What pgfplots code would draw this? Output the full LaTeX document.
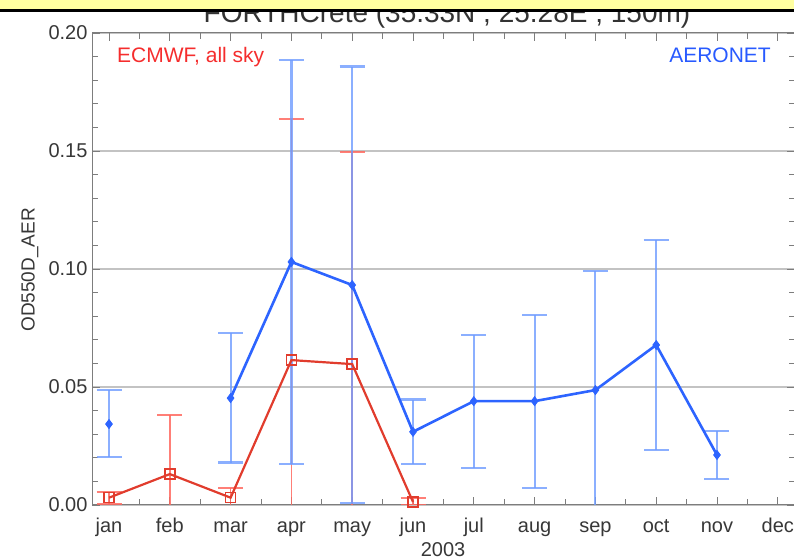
\documentclass[border=0pt]{standalone}
\usepackage{fontspec}
\setmainfont{Liberation Sans}
\usepackage{pgfplots}
\pgfplotsset{compat=1.18}
\definecolor{bline}{RGB}{45,100,255}
\definecolor{berr}{RGB}{110,155,255}
\definecolor{rline}{RGB}{225,60,45}
\definecolor{rerr}{RGB}{255,105,95}
\definecolor{gridc}{RGB}{195,195,195}
\definecolor{axc}{RGB}{125,125,125}
\definecolor{txt}{RGB}{55,55,55}
\definecolor{ylw}{RGB}{255,255,160}
\definecolor{rtxt}{RGB}{245,45,45}
\definecolor{btxt}{RGB}{40,90,255}
\begin{document}
\begin{tikzpicture}[x=1pt,y=1pt]
\useasboundingbox (0,0) rectangle (794,559);
\begin{axis}[
  at={(92pt,54pt)}, anchor=south west,
  scale only axis, width=702.8pt, height=472pt,
  xmin=0.72, xmax=12.28, ymin=0, ymax=0.2,
  clip=true,
  unbounded coords=jump,
  xtick={1,2,3,4,5,6,7,8,9,10,11,12},
  xticklabels={jan,feb,mar,apr,may,jun,jul,aug,sep,oct,nov,dec},
  minor xtick={1.5,2.5,3.5,4.5,5.5,6.5,7.5,8.5,9.5,10.5,11.5},
  ytick={0,0.05,0.10,0.15,0.20},
  yticklabels={0.00,0.05,0.10,0.15,\raisebox{-6pt}{0.20}},
  minor ytick={0.01,0.02,0.03,0.04,0.06,0.07,0.08,0.09,0.11,0.12,0.13,0.14,0.16,0.17,0.18,0.19},
  xtick pos=both, ytick pos=both, tick align=inside,
  major tick length=8pt, minor tick length=6pt,
  every tick/.style={axc, line width=0.8pt},
  axis line style={axc, line width=1pt},
  ymajorgrids, major grid style={gridc, line width=2pt},
  tick label style={font=\fontsize{20}{22}\selectfont, text=txt},
  xticklabel style={anchor=base, yshift=-28pt},
  yticklabel style={anchor=east, xshift=-1pt},
]
% ECMWF error bars
\addplot[draw=none, mark=none, forget plot,
  error bars/.cd, y dir=both, y explicit,
  error bar style={draw=rerr, line width=1.6pt, opacity=0.85},
  error mark options={draw=rerr, line width=1.6pt, mark size=12.5pt, rotate=90}]
  table[x=x, y=y, y error plus=ep, y error minus=em] {
x y ep em
1 0.0031 0.0025 0.0028
2 0.0131 0.0250 0.0181
3 0.0031 0.0042 0.0081
4 0.0614 0.1022 0.0664
5 0.0597 0.0899 0.0647
6 0.0013 0.0017 0.0013
};
% AERONET error bars
\addplot[draw=none, mark=none, forget plot,
  error bars/.cd, y dir=both, y explicit,
  error bar style={draw=berr, line width=2.2pt, opacity=0.8},
  error mark options={draw=berr, line width=2.2pt, mark size=12.5pt, rotate=90}]
  table[x=x, y=y, y error plus=ep, y error minus=em] {
x y ep em
1 0.0343 0.0144 0.0140
3 0.0453 0.0276 0.0273
4 0.1030 0.0855 0.0855
5 0.0932 0.0926 0.0925
6 0.0310 0.0137 0.0136
7 0.0440 0.0282 0.0283
8 0.0440 0.0365 0.0368
9 0.0487 0.0505 0.0540
10 0.0678 0.0445 0.0445
11 0.0212 0.0102 0.0102
};
% AERONET line
\addplot[bline, line width=2.6pt, mark=diamond*, mark size=4.5pt,
  mark options={fill=bline, line width=0.8pt}] table[x=x, y=y] {
x y
1 0.0343
2 nan
3 0.0453
4 0.1030
5 0.0932
6 0.0310
7 0.0440
8 0.0440
9 0.0487
10 0.0678
11 0.0212
};
% ECMWF line
\addplot[rline, line width=2.2pt, mark=square, mark size=5pt,
  mark options={line width=1.5pt, fill=none}] table[x=x, y=y] {
x y
1 0.0031
2 0.0131
3 0.0031
4 0.0614
5 0.0597
6 0.0013
};
\end{axis}
% labels
\node[anchor=base west, text=rtxt, font=\fontsize{21}{23}\selectfont, inner sep=0] at (117,496) {ECMWF, all sky};
\node[anchor=base east, text=btxt, font=\fontsize{21}{23}\selectfont, inner sep=0] at (771,496) {AERONET};
\node[rotate=90, text=txt, font=\fontsize{19}{21}\selectfont, inner sep=0] at (30,289) {OD550D\_AER};
\node[anchor=base, text=txt, font=\fontsize{20}{22}\selectfont, inner sep=0] at (443,3) {2003};
% title (partly hidden by banner)
\node[anchor=base, text=black!80, font=\fontsize{28}{30}\selectfont, inner sep=0] at (447,536) {FORTHCrete (35.33N , 25.28E , 150m)};
\fill[ylw] (-2,549) rectangle (796,561);
\draw[black, line width=3pt] (-2,548.5) -- (796,548.5);
\end{tikzpicture}
\end{document}
